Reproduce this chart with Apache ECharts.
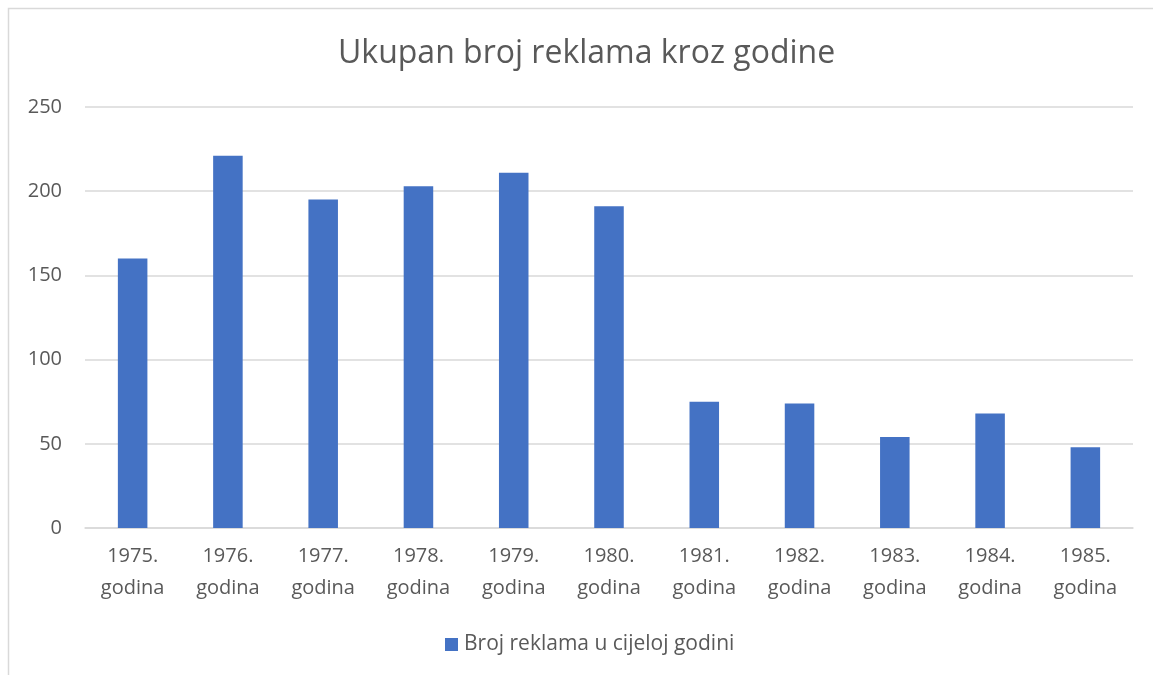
<!DOCTYPE html>
<html>
<head>
<meta charset="utf-8">
<style>
  html, body { margin: 0; padding: 0; background: #fff; }
  #chart { width: 1153px; height: 675px; }
</style>
<script src="https://cdn.jsdelivr.net/npm/echarts@6/dist/echarts.min.js"></script>
</head>
<body>
<div id="chart"></div>
<script>
// Broj reklama po godinama, 1975.–1985.
const years = ['1975.', '1976.', '1977.', '1978.', '1979.', '1980.', '1981.', '1982.', '1983.', '1984.', '1985.'];
const adCounts = [160, 221, 195, 203, 211, 191, 75, 74, 54, 68, 48];
const seriesName = 'Broj reklama u cijeloj godini';
const titleText = 'Ukupan broj reklama kroz godine';

const textColor = '#595959';
const gridColor = '#d9d9d9';
const barColor = '#4472C4';
const fontFamily = '"Open Sans", "Noto Sans", sans-serif';

const chart = echarts.init(document.getElementById('chart'), null, { renderer: 'canvas' });

chart.setOption({
  backgroundColor: '#ffffff',
  animation: false,
  textStyle: { fontFamily: fontFamily, color: textColor },
  graphic: [{
    type: 'rect',
    shape: { x: 8.5, y: 8.5, width: 1300, height: 800 },
    style: { fill: 'none', stroke: gridColor, lineWidth: 1.5 },
    silent: true,
    z: -1
  }],
  title: {
    text: titleText,
    left: 333,
    top: 33,
    textStyle: { fontFamily: fontFamily, fontSize: 32, fontWeight: 'normal', color: textColor }
  },
  legend: {
    bottom: 15,
    left: 440,
    itemWidth: 13,
    itemHeight: 13,
    itemGap: 10,
    icon: 'rect',
    textStyle: { fontFamily: fontFamily, fontSize: 21, color: textColor, padding: [0, 0, 0, 1] },
    data: [seriesName]
  },
  grid: { left: 85, right: 20, top: 107, bottom: 147, containLabel: false },
  xAxis: {
    type: 'category',
    data: years.map(y => y + '\ngodina'),
    axisLine: { show: true, lineStyle: { color: gridColor, width: 1.5 } },
    axisTick: { show: false },
    axisLabel: {
      fontFamily: fontFamily,
      fontSize: 20,
      color: textColor,
      lineHeight: 32,
      margin: 12,
      interval: 0
    }
  },
  yAxis: {
    type: 'value',
    min: 0,
    max: 250,
    interval: 50,
    axisLine: { show: false },
    axisTick: { show: false },
    splitLine: { lineStyle: { color: gridColor, width: 1.5 } },
    axisLabel: { fontFamily: fontFamily, fontSize: 20, color: textColor, margin: 23 }
  },
  series: [{
    name: seriesName,
    type: 'bar',
    data: adCounts,
    barWidth: '31%',
    itemStyle: { color: barColor }
  }]
});
</script>
</body>
</html>
